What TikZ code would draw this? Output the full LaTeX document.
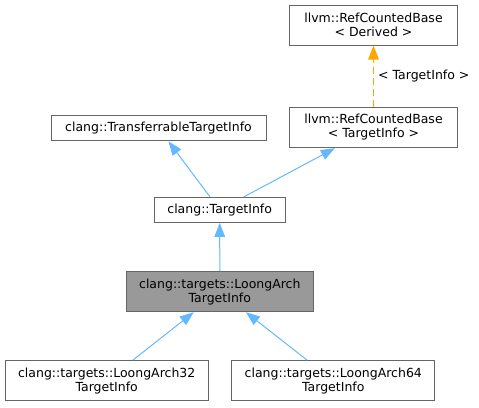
\documentclass[tikz,border=0pt]{standalone}
\usepackage{fontspec}
\setmainfont{DejaVu Sans}
\usetikzlibrary{arrows.meta}
\definecolor{edgeblue}{HTML}{63B8FF}
\definecolor{edgeorange}{HTML}{FFA500}
\definecolor{boxborder}{HTML}{666666}
\definecolor{boxfill}{HTML}{999999}
\begin{document}
\begin{tikzpicture}[x=1pt,y=-1pt,
  cls/.style={draw=boxborder, line width=1pt, fill=white, align=center, inner sep=0pt,
    font=\fontsize{12.5}{14}\selectfont},
  cur/.style={cls, fill=boxfill},
  inh/.style={draw=edgeblue, line width=1pt, -{Triangle[length=14pt,width=10.5pt]}},
  tmpl/.style={draw=edgeorange, line width=1.2pt, dash pattern=on 7pt off 4pt,
    -{Triangle[length=14pt,width=10.5pt]}},
  lbl/.style={font=\fontsize{12.5}{14}\selectfont, inner sep=0pt}]
\useasboundingbox (0,0) rectangle (479,407);
\node[cls, minimum width=167.4pt, minimum height=40pt] (derived) at (373.5,25)
  {llvm::RefCountedBase\\< Derived >};
\node[cls, minimum width=167.4pt, minimum height=40.4pt] (rctarget) at (373.5,127.5)
  {llvm::RefCountedBase\\< TargetInfo >};
\node[cls, minimum width=215pt, minimum height=25.7pt] (transfer) at (158.5,128)
  {clang::TransferrableTargetInfo};
\node[cls, minimum width=130.7pt, minimum height=25pt] (targetinfo) at (219.7,209.8)
  {clang::TargetInfo};
\node[cur, minimum width=187pt, minimum height=40pt] (loong) at (219.8,291.7)
  {clang::targets::LoongArch\\TargetInfo};
\node[cls, minimum width=203.3pt, minimum height=40pt] (la32) at (106.7,380.7)
  {clang::targets::LoongArch32\\TargetInfo};
\node[cls, minimum width=203.3pt, minimum height=40pt] (la64) at (333.3,380.7)
  {clang::targets::LoongArch64\\TargetInfo};
\node[lbl, anchor=west] (tlabel) at (378,76) {< TargetInfo >};
\draw[tmpl] (rctarget) -- (derived);
\draw[inh] (targetinfo) -- (transfer);
\draw[inh] (targetinfo) -- (rctarget);
\draw[inh] (loong) -- (targetinfo);
\draw[inh] (la32) -- (loong);
\draw[inh] (la64) -- (loong);
\end{tikzpicture}
\end{document}
